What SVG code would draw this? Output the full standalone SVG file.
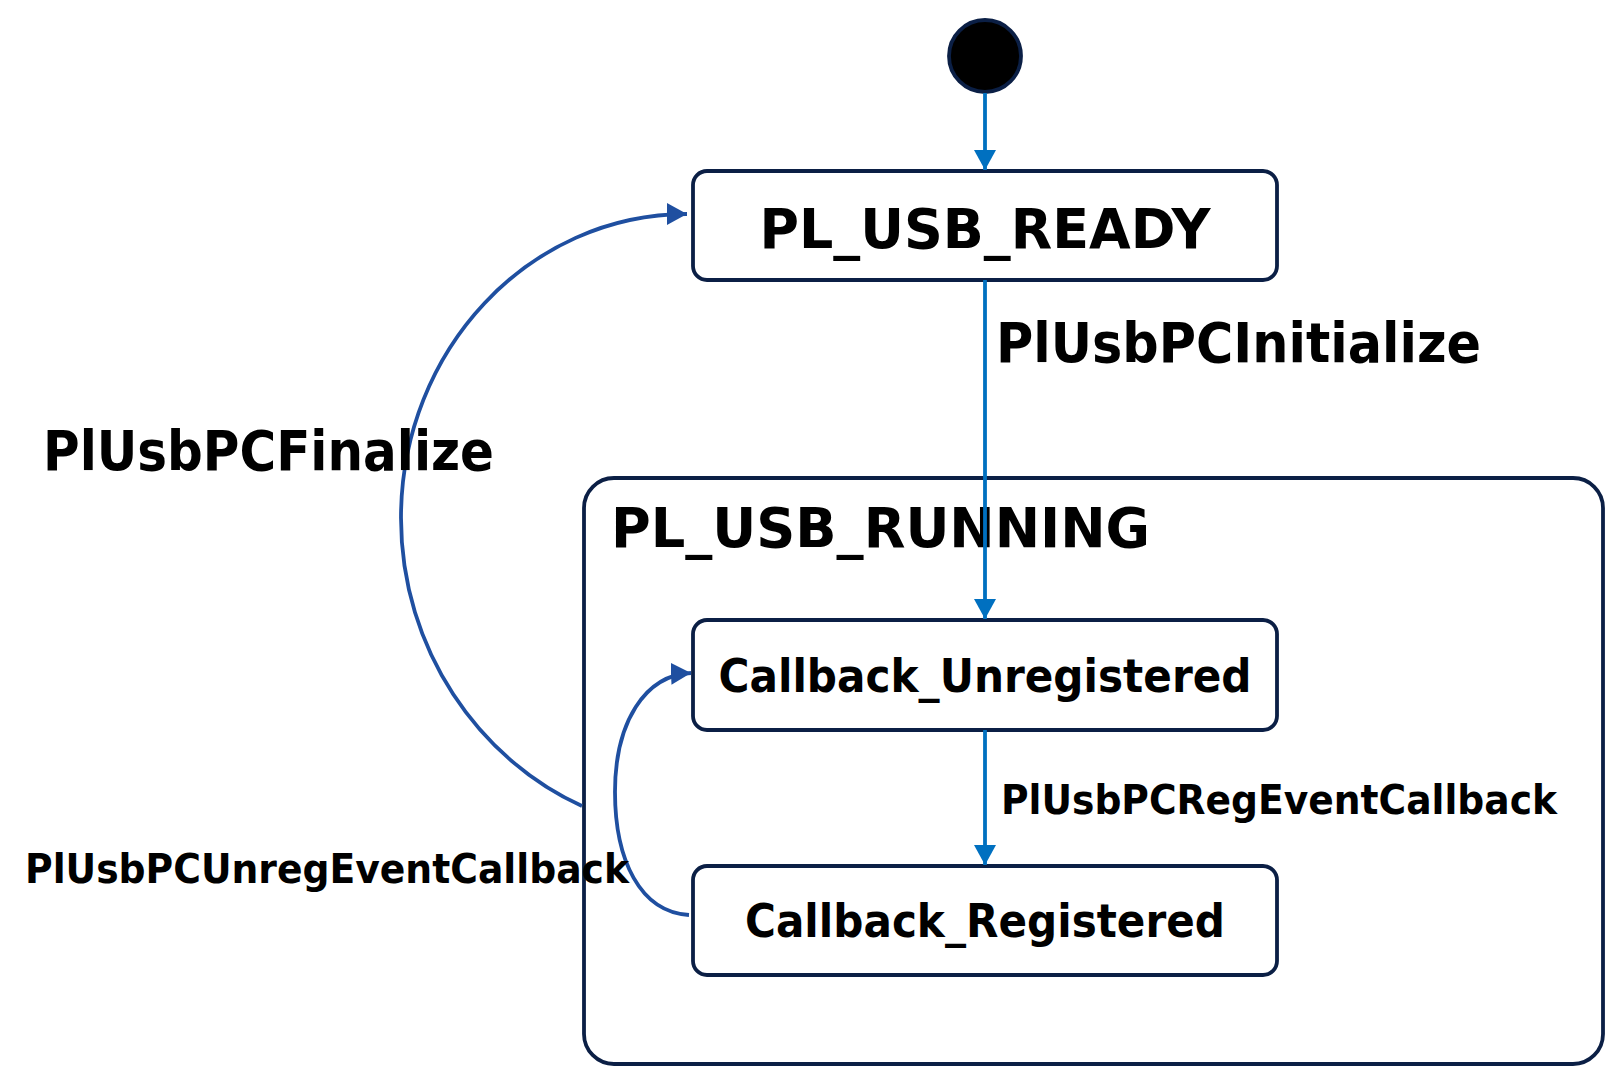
<svg xmlns="http://www.w3.org/2000/svg" width="1624" height="1091" viewBox="0 0 1624 1091">
<style>
.node{fill:#ffffff;stroke:#0b1f45;stroke-width:3.8}
.t{font-family:"DejaVu Sans","Liberation Sans",sans-serif;font-weight:bold;fill:#000}
.c1{fill:none;stroke:#0070c0;stroke-width:3.8}
.c2{fill:none;stroke:#1f4fa0;stroke-width:3.8}
</style>
<defs>
<marker id="a1" viewBox="0 0 20 22" refX="20" refY="11" markerWidth="20" markerHeight="22" markerUnits="userSpaceOnUse" orient="auto"><path d="M0 0 L20 11 L0 22 Z" fill="#0070c0"/></marker>
<marker id="a2" viewBox="0 0 20 22" refX="20" refY="11" markerWidth="20" markerHeight="22" markerUnits="userSpaceOnUse" orient="auto"><path d="M0 0 L20 11 L0 22 Z" fill="#1f4fa0"/></marker>
</defs>
<rect width="1624" height="1091" fill="#ffffff"/>
<g id="initial"><circle cx="985" cy="56" r="36" fill="#000" stroke="#0b1f45" stroke-width="3.8"/></g>
<g id="running"><rect class="node" x="584" y="478" width="1019" height="586" rx="30"/>
<text class="t" x="611" y="547" font-size="56" textLength="539" lengthAdjust="spacingAndGlyphs">PL_USB_RUNNING</text></g>
<g id="ready"><rect class="node" x="693" y="171" width="584" height="109" rx="14"/>
<text class="t" x="985" y="248" font-size="56" text-anchor="middle" textLength="451" lengthAdjust="spacingAndGlyphs">PL_USB_READY</text></g>
<g id="unregistered"><rect class="node" x="693" y="620" width="584" height="110" rx="14"/>
<text class="t" x="985" y="692" font-size="47" text-anchor="middle" textLength="533" lengthAdjust="spacingAndGlyphs">Callback_Unregistered</text></g>
<g id="registered"><rect class="node" x="693" y="866" width="584" height="109" rx="14"/>
<text class="t" x="985" y="937" font-size="47" text-anchor="middle" textLength="480" lengthAdjust="spacingAndGlyphs">Callback_Registered</text></g>
<g id="connectors">
<path class="c1" d="M985 93 L985 170" marker-end="url(#a1)"/>
<path class="c1" d="M985 280 L985 619" marker-end="url(#a1)"/>
<path class="c1" d="M985 730 L985 865" marker-end="url(#a1)"/>
<path class="c2" d="M582 806 C480 760 401 650 401 518 C401 350 529 214 687 214" marker-end="url(#a2)"/>
<path class="c2" d="M689 915 C640 912 615 860 615 792 C615 722 645 675 691 673" marker-end="url(#a2)"/>
</g>
<g id="labels">
<text class="t" x="996" y="362" font-size="56" textLength="485" lengthAdjust="spacingAndGlyphs">PlUsbPCInitialize</text>
<text class="t" x="43" y="470" font-size="56" textLength="451" lengthAdjust="spacingAndGlyphs">PlUsbPCFinalize</text>
<text class="t" x="1001" y="814" font-size="41" textLength="556" lengthAdjust="spacingAndGlyphs">PlUsbPCRegEventCallback</text>
<text class="t" x="25" y="883" font-size="41" textLength="604" lengthAdjust="spacingAndGlyphs">PlUsbPCUnregEventCallback</text>
</g>
</svg>
